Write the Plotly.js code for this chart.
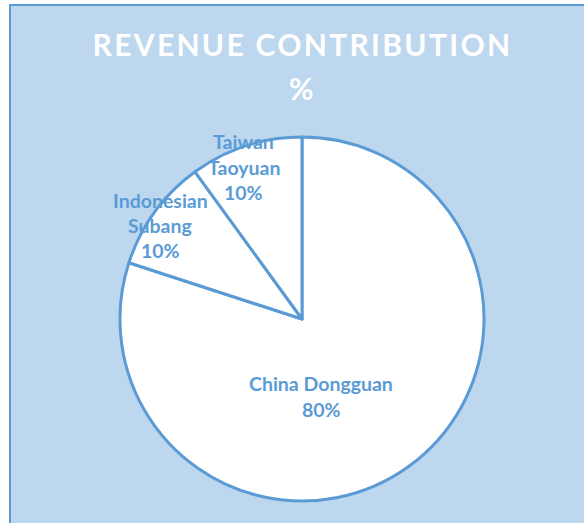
<!DOCTYPE html>
<html>
<head>
<meta charset="utf-8">
<script src="https://cdn.plot.ly/plotly-3.0.1.min.js"></script>
<style>
  html, body { margin: 0; padding: 0; background: #ffffff; overflow: hidden; width: 584px; height: 523px; }
  #chart { position: absolute; left: 9px; top: 4px; width: 600px; height: 540px;
           border-left: 2px solid #5B9BD5; border-top: 2px solid #5B9BD5; }
  .gtitle { letter-spacing: 2.3px; }
</style>
</head>
<body>
<div id="chart"></div>
<script>
// ---- data ----
const categories = ["China Dongguan", "Indonesian Subang", "Taiwan Taoyuan"];
const labelLines = [["China Dongguan"], ["Indonesian", "Subang"], ["Taiwan", "Taoyuan"]];
const shares = [80, 10, 10];
const titleText = "REVENUE CONTRIBUTION";
const titleLine2 = "%";

// ---- layout helpers (pixel positions inside the chart box) ----
const W = 600, H = 540;
const px = x => (x - 11) / W;           // page x -> paper x
const py = y => 1 - (y - 6) / H;        // page y -> paper y
// first-line centre of each label block, and line step
const labelPos = [[321, 383, 26], [160, 200.5, 25], [243.5, 142, 25]];

const blue = "#5B9BD5";
const fontFam = "Lato, 'Open Sans', sans-serif";

const annotations = [];
labelLines.forEach((lines, i) => {
  const all = lines.concat([shares[i] + "%"]);
  all.forEach((t, j) => {
    annotations.push({
      xref: "paper", yref: "paper",
      x: px(labelPos[i][0]), y: py(labelPos[i][1] + j * labelPos[i][2]),
      xanchor: "center", yanchor: "middle",
      text: "<b>" + t + "</b>",
      showarrow: false,
      font: { family: fontFam, size: 19.5, color: blue }
    });
  });
});
annotations.push({
  xref: "paper", yref: "paper",
  x: px(301), y: py(88), xanchor: "center", yanchor: "middle",
  text: "<b>" + titleLine2 + "</b>", showarrow: false,
  font: { family: fontFam, size: 30, color: "#ffffff" }
});

const trace = {
  type: "pie",
  labels: categories,
  values: shares,
  sort: false,
  direction: "clockwise",
  rotation: 0,
  textinfo: "none",
  hoverinfo: "label+percent",
  marker: { colors: ["#ffffff", "#ffffff", "#ffffff"], line: { color: blue, width: 3 } },
  domain: { x: [px(120), px(484)], y: [py(501), py(137)] },
  showlegend: false
};

const layout = {
  width: W, height: H,
  margin: { l: 0, r: 0, t: 0, b: 0 },
  paper_bgcolor: "#BDD7EE",
  title: {
    text: "<b>" + titleText + "</b>",
    font: { family: fontFam, size: 30, color: "#ffffff" },
    x: px(302.5), xanchor: "center",
    xref: "paper", yref: "paper",
    y: py(45), yanchor: "middle"
  },
  annotations: annotations,
  showlegend: false
};

Plotly.newPlot("chart", [trace], layout, { displayModeBar: false, staticPlot: true });
</script>
</body>
</html>
